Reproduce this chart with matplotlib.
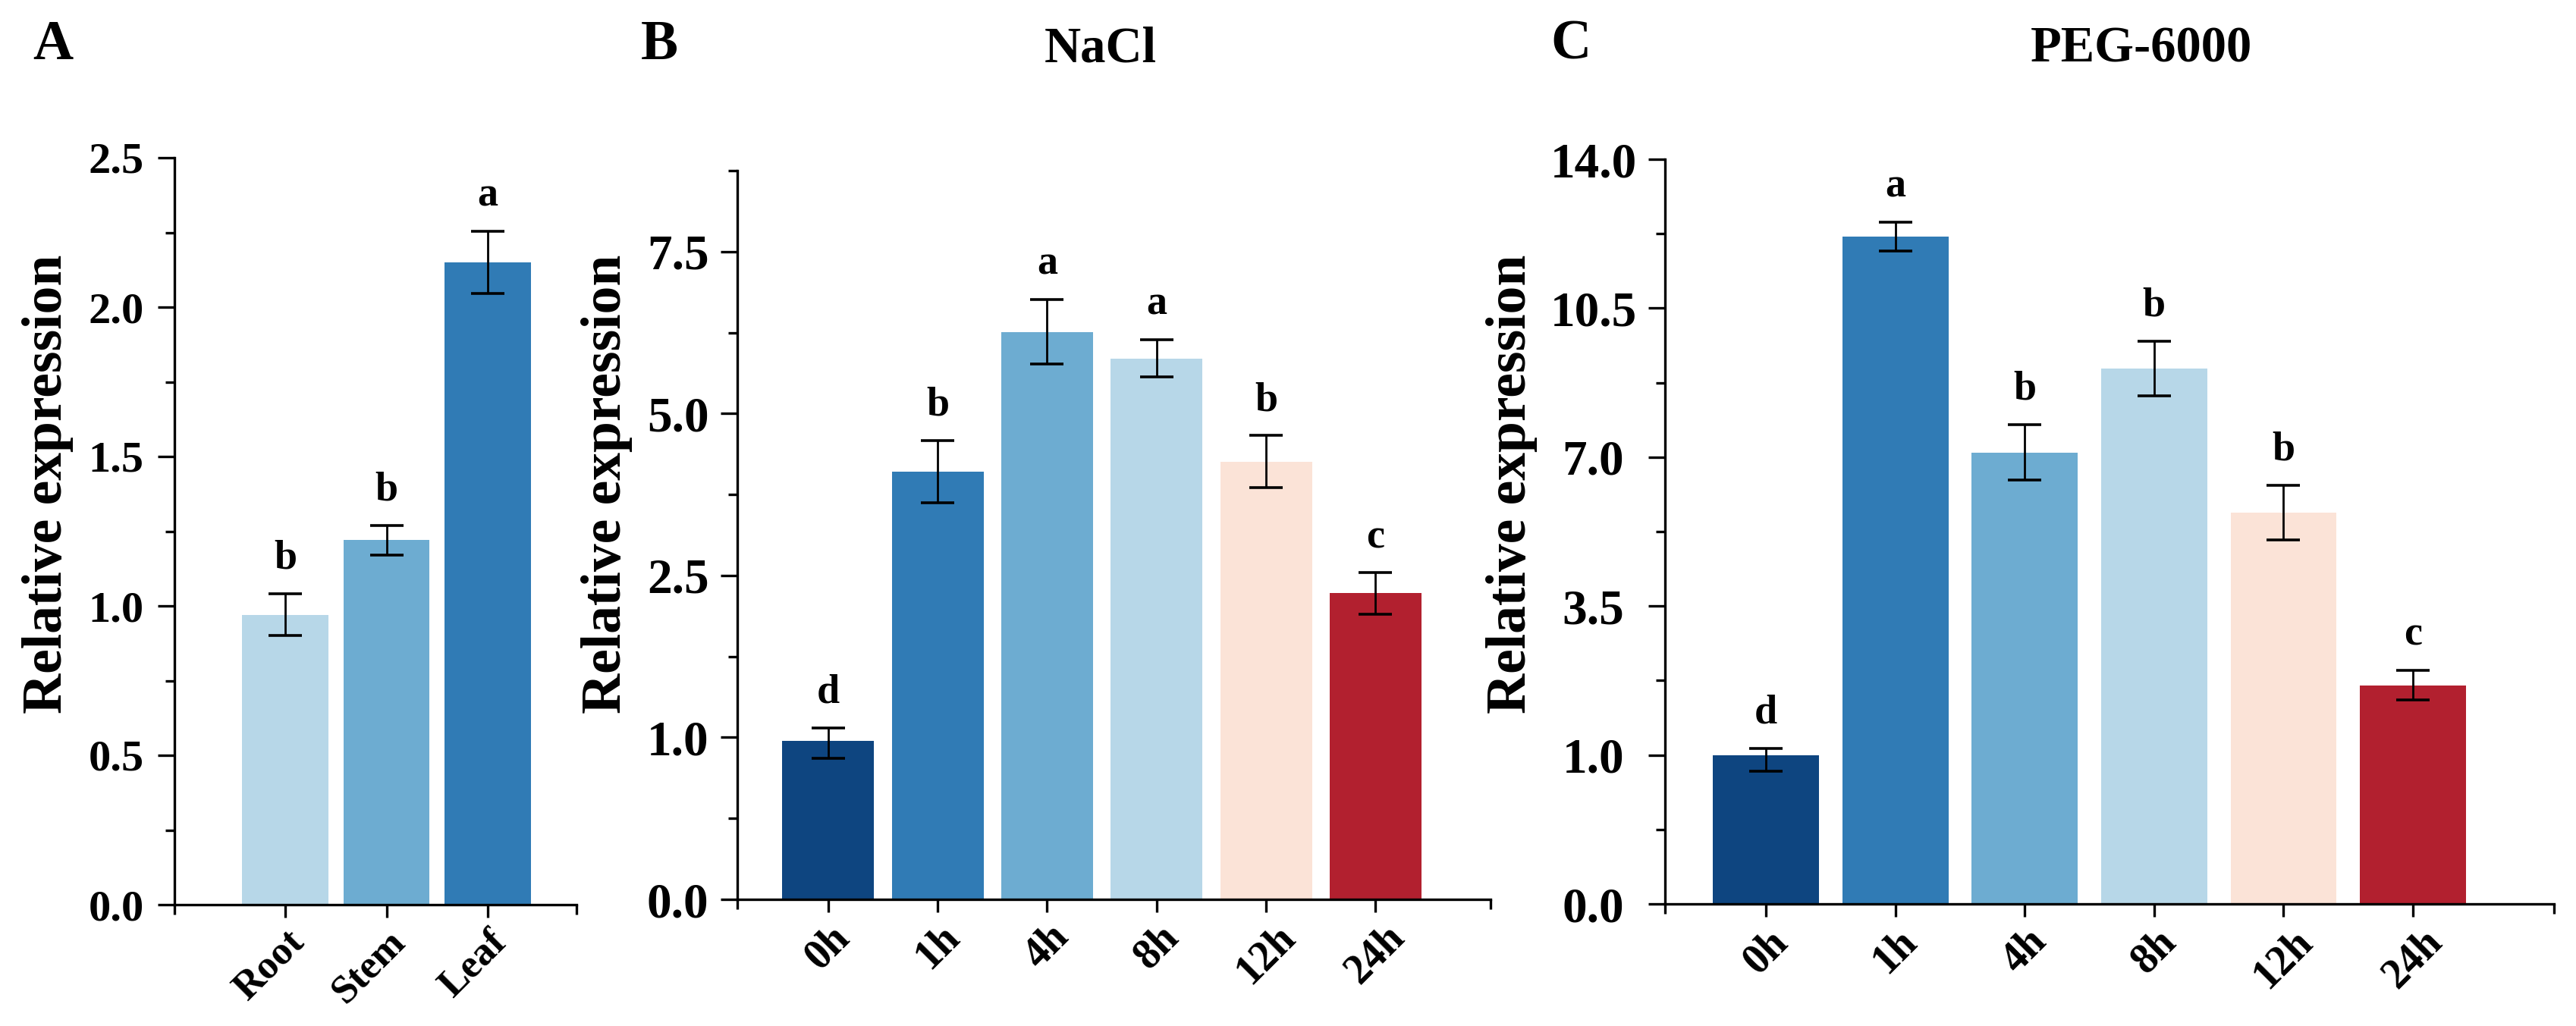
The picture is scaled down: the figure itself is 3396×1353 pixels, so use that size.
import numpy as np
import matplotlib
matplotlib.use("Agg")
import matplotlib.pyplot as plt
from matplotlib.ticker import FixedLocator, FormatStrFormatter

plt.rcParams['font.family'] = ['Liberation Serif', 'DejaVu Serif']
plt.rcParams['font.weight'] = 'bold'

# ---------------- data ----------------
tissues = ['Root', 'Stem', 'Leaf']
tissue_expr = [0.97, 1.22, 2.15]
tissue_err = [0.07, 0.05, 0.105]
tissue_letters = ['b', 'b', 'a']
tissue_ticks = [0.0, 0.5, 1.0, 1.5, 2.0, 2.5]

timepoints = ['0h', '1h', '4h', '8h', '12h', '24h']
nacl_expr = [0.98, 4.10, 6.26, 5.85, 4.26, 2.34]
nacl_err = [0.11, 0.48, 0.50, 0.29, 0.40, 0.20]
nacl_letters = ['d', 'b', 'a', 'a', 'b', 'c']
nacl_ticks = [0.0, 1.0, 2.5, 5.0, 7.5]

peg_expr = [1.00, 12.18, 7.11, 9.08, 5.70, 2.17]
peg_err = [0.11, 0.34, 0.65, 0.64, 0.64, 0.25]
peg_letters = ['d', 'a', 'b', 'b', 'b', 'c']
peg_ticks = [0.0, 1.0, 3.5, 7.0, 10.5, 14.0]

tissue_colors = ['#B7D7E8', '#6DACD1', '#307BB5']
time_colors = ['#0E4580', '#307BB5', '#6DACD1', '#B7D7E8', '#FBE3D7', '#B2202F']

# ---------------- helpers ----------------
def segmented_scale(ax, breaks):
    b = np.asarray(breaks, float)
    b = np.append(b, b[-1] + (b[-1] - b[-2]))
    pos = np.arange(len(b), dtype=float)
    fwd = lambda v: np.interp(v, b, pos)
    inv = lambda u: np.interp(u, pos, b)
    ax.set_yscale('function', functions=(fwd, inv))
    mids = [(b[i] + b[i + 1]) / 2 for i in range(len(b) - 1)]
    return mids

def style(ax, ytick_fs, ypad):
    for s in ['top', 'right']:
        ax.spines[s].set_visible(False)
    for s in ['left', 'bottom']:
        ax.spines[s].set_linewidth(2.4)
    ax.tick_params(axis='y', which='major', length=16, width=2.4,
                   labelsize=ytick_fs, pad=ypad, direction='out')
    ax.tick_params(axis='y', which='minor', length=8.5, width=2.4, direction='out')
    ax.tick_params(axis='x', which='major', length=12, width=2.4, direction='out')
    ax.tick_params(axis='x', which='minor', length=9, width=2.4, direction='out')
    for lbl in ax.get_yticklabels():
        lbl.set_fontweight('bold')

def draw(ax, cats, vals, errs, letters, colors, width, xlim, xfs, anchor):
    x = np.arange(len(cats))
    ax.bar(x, vals, width=width, color=colors, edgecolor='none', zorder=2)
    ax.errorbar(x, vals, yerr=errs, fmt='none', ecolor='black',
                elinewidth=2.0, capsize=16, capthick=2.6, zorder=3)
    for xi, v, e, l in zip(x, vals, errs, letters):
        ax.annotate(l, xy=(xi, v + e), xytext=(0, 24), textcoords='offset points',
                    ha='center', va='baseline', fontsize=39, fontweight='bold')
    ax.set_xlim(*xlim)
    ax.set_xticks(x)
    ax.xaxis.set_minor_locator(FixedLocator(list(xlim)))
    if anchor:
        ax.set_xticklabels(cats, rotation=45, ha='right', va='top',
                           rotation_mode='anchor', fontsize=xfs, fontweight='bold')
        ax.tick_params(axis='x', which='major', pad=6)
    else:
        ax.set_xticklabels(cats, rotation=45, ha='center', va='top',
                           fontsize=xfs, fontweight='bold')
        ax.tick_params(axis='x', which='major', pad=5)

# ---------------- figure ----------------
fig = plt.figure(figsize=(33.96, 13.53), dpi=100)
W, H = 3396.0, 1353.0

def add_axes(left, right, bottom, top):
    return fig.add_axes([left / W, 1 - bottom / H, (right - left) / W, (bottom - top) / H])

# Panel A
axA = add_axes(230, 760, 1193, 208)
draw(axA, tissues, tissue_expr, tissue_err, tissue_letters, tissue_colors,
     0.85, (-1.094, 2.876), 38, True)
axA.set_ylim(0, 2.5)
axA.yaxis.set_major_locator(FixedLocator(tissue_ticks))
axA.yaxis.set_minor_locator(FixedLocator([0.25, 0.75, 1.25, 1.75, 2.25]))
axA.yaxis.set_major_formatter(FormatStrFormatter('%.1f'))
style(axA, 42, 13)

# Panel B
axB = add_axes(972, 1965, 1186, 225)
mids = segmented_scale(axB, nacl_ticks)
draw(axB, timepoints, nacl_expr, nacl_err, nacl_letters, time_colors,
     0.84, (-0.83, 6.05), 40, False)
axB.set_ylim(0, mids[4])
axB.yaxis.set_major_locator(FixedLocator(nacl_ticks))
axB.yaxis.set_minor_locator(FixedLocator(mids[:5]))
axB.yaxis.set_major_formatter(FormatStrFormatter('%.1f'))
style(axB, 47, 11)

# Panel C
axC = add_axes(2195, 3367, 1192, 210)
midsC = segmented_scale(axC, peg_ticks)
draw(axC, timepoints, peg_expr, peg_err, peg_letters, time_colors,
     0.82, (-0.78, 6.09), 40, False)
axC.set_ylim(0, peg_ticks[-1])
axC.yaxis.set_major_locator(FixedLocator(peg_ticks))
axC.yaxis.set_minor_locator(FixedLocator(midsC[:5]))
axC.yaxis.set_major_formatter(FormatStrFormatter('%.1f'))
style(axC, 47, 52)
for lbl in axC.get_yticklabels():
    lbl.set_horizontalalignment('center')

# y labels
for xc in [63, 800, 1993]:
    fig.text(xc / W, 1 - 638 / H, 'Relative expression', rotation=90,
             ha='center', va='center', fontsize=53, fontweight='bold')

# panel letters and titles
for xl, letter in [(43, 'A'), (845, 'B'), (2044, 'C')]:
    fig.text(xl / W, 1 - 60 / H, letter, ha='left', va='center',
             fontsize=53, fontweight='bold')
fig.text(1451 / W, 1 - 65 / H, 'NaCl', ha='center', va='center',
         fontsize=48, fontweight='bold')
fig.text(2823 / W, 1 - 65 / H, 'PEG-6000', ha='center', va='center',
         fontsize=48, fontweight='bold')

fig.savefig('out.png', dpi=100, facecolor='white')
